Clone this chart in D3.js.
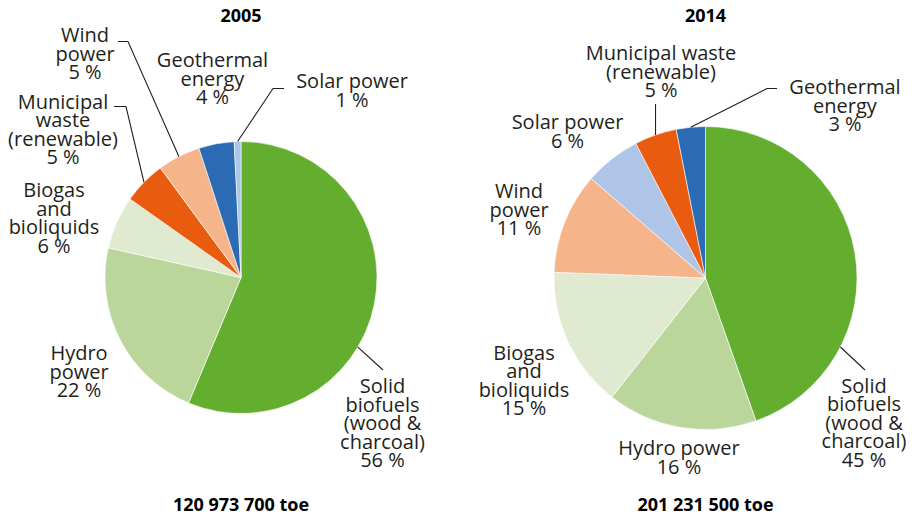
<!DOCTYPE html>
<html>
<head>
<meta charset="utf-8">
<script src="https://cdn.jsdelivr.net/npm/d3@7"></script>
<style>
  html, body { margin: 0; padding: 0; background: #fff; }
  svg { display: block; }
</style>
</head>
<body>
<svg id="chart" width="912" height="518"></svg>
<script>
// ---------- data ----------
const titles = ["2005", "2014"];
const totals = ["120 973 700 toe", "201 231 500 toe"];

const categories2005 = ["Solid biofuels (wood & charcoal)", "Hydro power", "Biogas and bioliquids",
  "Municipal waste (renewable)", "Wind power", "Geothermal energy", "Solar power"];
const values2005 = [56.3, 22.2, 6.3, 5.1, 5.1, 4.2, 0.8];
const pctLabels2005 = ["56 %", "22 %", "6 %", "5 %", "5 %", "4 %", "1 %"];

const categories2014 = ["Solid biofuels (wood & charcoal)", "Hydro power", "Biogas and bioliquids",
  "Wind power", "Solar power", "Municipal waste (renewable)", "Geothermal energy"];
const values2014 = [44.6, 16.0, 15.0, 10.8, 6.0, 4.5, 3.1];
const pctLabels2014 = ["45 %", "16 %", "15 %", "11 %", "6 %", "5 %", "3 %"];

const colorCategories = ["Solid biofuels (wood & charcoal)", "Hydro power", "Biogas and bioliquids",
  "Municipal waste (renewable)", "Wind power", "Geothermal energy", "Solar power"];
const colorValues = ["#63ad2f", "#bad69b", "#dfead0", "#e95c0f", "#f6b48b", "#2b6bb3", "#aec5e7"];

// ---------- layout (positions, not data) ----------
const pieLayout = [
  { cx: 241, cy: 277.5, r: 136, titleY: 22, totalY: 511 },
  { cx: 705.5, cy: 278, r: 151.5, titleY: 22, totalY: 511 }
];
// label layout per category: text lines (name part), centre x, first baseline y, leader
const labelLayout = [
  {
    "Solid biofuels (wood & charcoal)": { lines: ["Solid", "biofuels", "(wood &", "charcoal)"], x: 382.5, y: 393,
      leader: { type: "straight", x: 383, y: 370, angleDeg: 120.75 } },
    "Hydro power": { lines: ["Hydro", "power"], x: 79, y: 360 },
    "Biogas and bioliquids": { lines: ["Biogas", "and", "bioliquids"], x: 54, y: 197 },
    "Municipal waste (renewable)": { lines: ["Municipal", "waste", "(renewable)"], x: 63, y: 108.5,
      leader: { type: "elbow", x: 114, x2: 126, y: 106.5 } },
    "Wind power": { lines: ["Wind", "power"], x: 85, y: 42,
      leader: { type: "elbow", x: 118, x2: 128, y: 41.5 } },
    "Geothermal energy": { lines: ["Geothermal", "energy"], x: 212.5, y: 67 },
    "Solar power": { lines: ["Solar power"], x: 352, y: 88,
      leader: { type: "elbow", x: 284, x2: 273, y: 88.5 } }
  },
  {
    "Solid biofuels (wood & charcoal)": { lines: ["Solid", "biofuels", "(wood &", "charcoal)"], x: 864, y: 392.5,
      leader: { type: "straight", x: 865, y: 370, angleDeg: 117.1 } },
    "Hydro power": { lines: ["Hydro power"], x: 679, y: 455 },
    "Biogas and bioliquids": { lines: ["Biogas", "and", "bioliquids"], x: 524, y: 359.5 },
    "Wind power": { lines: ["Wind", "power"], x: 519, y: 198 },
    "Solar power": { lines: ["Solar power"], x: 567.5, y: 129 },
    "Municipal waste (renewable)": { lines: ["Municipal waste", "(renewable)"], x: 661, y: 60,
      leader: { type: "vertical", x: 655, y: 104 } },
    "Geothermal energy": { lines: ["Geothermal", "energy"], x: 845, y: 94,
      leader: { type: "elbow", x: 777, x2: 767, y: 88.5 } }
  }
];

const FONT = "'Open Sans', 'Noto Sans', sans-serif";
const FS = 20;
const LH = 18.6;
const textColor = "#231f20";

const color = d3.scaleOrdinal().domain(colorCategories).range(colorValues);

const svg = d3.select("#chart");

const charts = [
  { cats: categories2005, vals: values2005, pcts: pctLabels2005 },
  { cats: categories2014, vals: values2014, pcts: pctLabels2014 }
];

charts.forEach((c, i) => {
  const L = pieLayout[i];
  const data = c.cats.map((cat, j) => ({ cat, value: c.vals[j], pct: c.pcts[j] }));
  const pie = d3.pie().sort(null).value(d => d.value).startAngle(0).endAngle(2 * Math.PI);
  const arcs = pie(data);
  const arc = d3.arc().innerRadius(0).outerRadius(L.r);

  const g = svg.append("g").attr("transform", `translate(${L.cx},${L.cy})`);
  g.selectAll("path").data(arcs).join("path")
    .attr("d", arc)
    .attr("fill", d => color(d.data.cat))
    .attr("stroke", "#ffffff")
    .attr("stroke-width", 0.6)
    .attr("stroke-linejoin", "round");

  // title & total
  svg.append("text").attr("x", L.cx).attr("y", L.titleY)
    .attr("text-anchor", "middle").attr("font-family", FONT).attr("font-weight", "bold")
    .attr("font-size", 18).attr("fill", "#000").text(titles[i]);
  svg.append("text").attr("x", L.cx).attr("y", L.totalY)
    .attr("text-anchor", "middle").attr("font-family", FONT).attr("font-weight", "bold")
    .attr("font-size", 18).attr("fill", "#000").text(totals[i]);

  // labels & leaders
  arcs.forEach(a => {
    const lay = labelLayout[i][a.data.cat];
    if (!lay) return;
    const lines = lay.lines.concat([a.data.pct]);
    const t = svg.append("text")
      .attr("font-family", FONT).attr("font-size", FS).attr("fill", textColor)
      .attr("text-anchor", "middle");
    lines.forEach((ln, k) => {
      t.append("tspan").attr("x", lay.x).attr("y", lay.y + k * LH).text(ln);
    });
    if (lay.leader) {
      const ld = lay.leader;
      const ang = ld.angleDeg !== undefined ? ld.angleDeg * Math.PI / 180 : (a.startAngle + a.endAngle) / 2;
      const ex = L.cx + L.r * Math.sin(ang);
      const ey = L.cy - L.r * Math.cos(ang);
      let pts;
      if (ld.type === "elbow") pts = [[ld.x, ld.y], [ld.x2, ld.y], [ex, ey]];
      else if (ld.type === "vertical") pts = [[ex, ld.y], [ex, ey]];
      else pts = [[ld.x, ld.y], [ex, ey]];
      svg.append("path")
        .attr("d", d3.line()(pts))
        .attr("fill", "none").attr("stroke", textColor).attr("stroke-width", 1.1);
    }
  });
});
</script>
</body>
</html>
